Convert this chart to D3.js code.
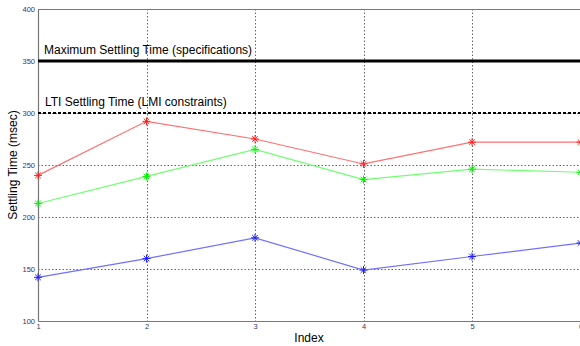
<!DOCTYPE html>
<html>
<head>
<meta charset="utf-8">
<script src="https://cdn.jsdelivr.net/npm/d3@7"></script>
<style>
  html, body { margin: 0; padding: 0; background: #fff; }
  svg { display: block; font-family: Arial, "Liberation Sans", sans-serif; }
</style>
</head>
<body>
<svg id="chart" width="580" height="346"></svg>
<script>
// Settling time for each test index
const indices = [1, 2, 3, 4, 5, 6];
const redSeries = [240, 292, 275, 251, 272, 272];
const greenSeries = [213, 239, 265, 236, 246, 243];
const blueSeries = [142, 160, 180, 149, 162, 175];
const yTicks = [100, 150, 200, 250, 300, 350, 400];
const maxSettling = 350;
const ltiSettling = 300;

const series = [
  { values: redSeries, line: "#ff7070", mark: "#ff2020" },
  { values: greenSeries, line: "#70ff70", mark: "#10ee10" },
  { values: blueSeries, line: "#7070ff", mark: "#2020ff" }
];

const svg = d3.select("#chart");
const margin = { left: 38, right: 0, top: 9, bottom: 25 };
const W = 580, H = 346;

const x = d3.scaleLinear().domain([1, 6]).range([margin.left, W - margin.right + 0.5]);
const y = d3.scaleLinear().domain([100, 400]).range([H - margin.bottom, margin.top]);

// grid lines
const grid = svg.append("g").attr("stroke", "#666").attr("stroke-width", 1)
  .attr("stroke-dasharray", "1.5,2");
grid.selectAll("line.v").data(indices.slice(1, 5)).join("line")
  .attr("x1", d => Math.round(x(d)) + 0.5).attr("x2", d => Math.round(x(d)) + 0.5)
  .attr("y1", y(400)).attr("y2", y(100));
grid.selectAll("line.h").data(yTicks.slice(1, 6)).join("line")
  .attr("x1", x(1)).attr("x2", W)
  .attr("y1", d => Math.round(y(d)) + 0.5).attr("y2", d => Math.round(y(d)) + 0.5);

// axes
const axisColor = "#777";
const tickColor = "#3b3366";
const yAxis = svg.append("g").attr("transform", `translate(${margin.left},0)`)
  .call(d3.axisLeft(y).tickValues(yTicks).tickSize(0).tickPadding(3));
const xAxis = svg.append("g").attr("transform", `translate(0,${H - margin.bottom})`)
  .call(d3.axisBottom(x).tickValues(indices).tickSize(0).tickPadding(3).tickFormat(d3.format("d")));
[yAxis, xAxis].forEach(a => {
  a.select(".domain").attr("stroke", axisColor).attr("stroke-width", 1.2);
  a.selectAll("text").attr("fill", tickColor).attr("font-size", 7.5);
});
// top border
svg.append("line").attr("x1", margin.left).attr("x2", W).attr("y1", margin.top + 0.5).attr("y2", margin.top + 0.5)
  .attr("stroke", axisColor).attr("stroke-width", 1);

// reference levels
svg.append("line").attr("x1", x(1)).attr("x2", W)
  .attr("y1", y(maxSettling)).attr("y2", y(maxSettling))
  .attr("stroke", "#000").attr("stroke-width", 3);
svg.append("line").attr("x1", x(1)).attr("x2", W)
  .attr("y1", y(ltiSettling)).attr("y2", y(ltiSettling))
  .attr("stroke", "#000").attr("stroke-width", 2.2).attr("stroke-dasharray", "3,2");

svg.append("text").attr("x", 44).attr("y", y(maxSettling) - 7)
  .attr("font-size", 12).attr("fill", "#000").text("Maximum Settling Time (specifications)");
svg.append("text").attr("x", 45).attr("y", y(ltiSettling) - 7)
  .attr("font-size", 12).attr("fill", "#000").text("LTI Settling Time (LMI constraints)");

// series lines and asterisk markers
const line = d3.line().x((d, i) => x(indices[i])).y(d => y(d));
const star = "M-4,0L4,0M0,-4L0,4M-2.8,-2.8L2.8,2.8M-2.8,2.8L2.8,-2.8";
series.forEach(s => {
  svg.append("path").datum(s.values).attr("d", line)
    .attr("fill", "none").attr("stroke", s.line).attr("stroke-width", 1.2);
  svg.append("g").selectAll("path").data(s.values).join("path")
    .attr("transform", (d, i) => `translate(${x(indices[i])},${y(d)})`)
    .attr("d", star).attr("stroke", s.mark).attr("stroke-width", 1).attr("fill", "none");
});

// axis titles
svg.append("text").attr("x", 309).attr("y", 342).attr("text-anchor", "middle")
  .attr("font-size", 12).attr("fill", "#000").text("Index");
svg.append("text").attr("transform", `translate(17,165) rotate(-90)`).attr("text-anchor", "middle")
  .attr("font-size", 12).attr("fill", "#000").text("Settling Time (msec)");
</script>
</body>
</html>
